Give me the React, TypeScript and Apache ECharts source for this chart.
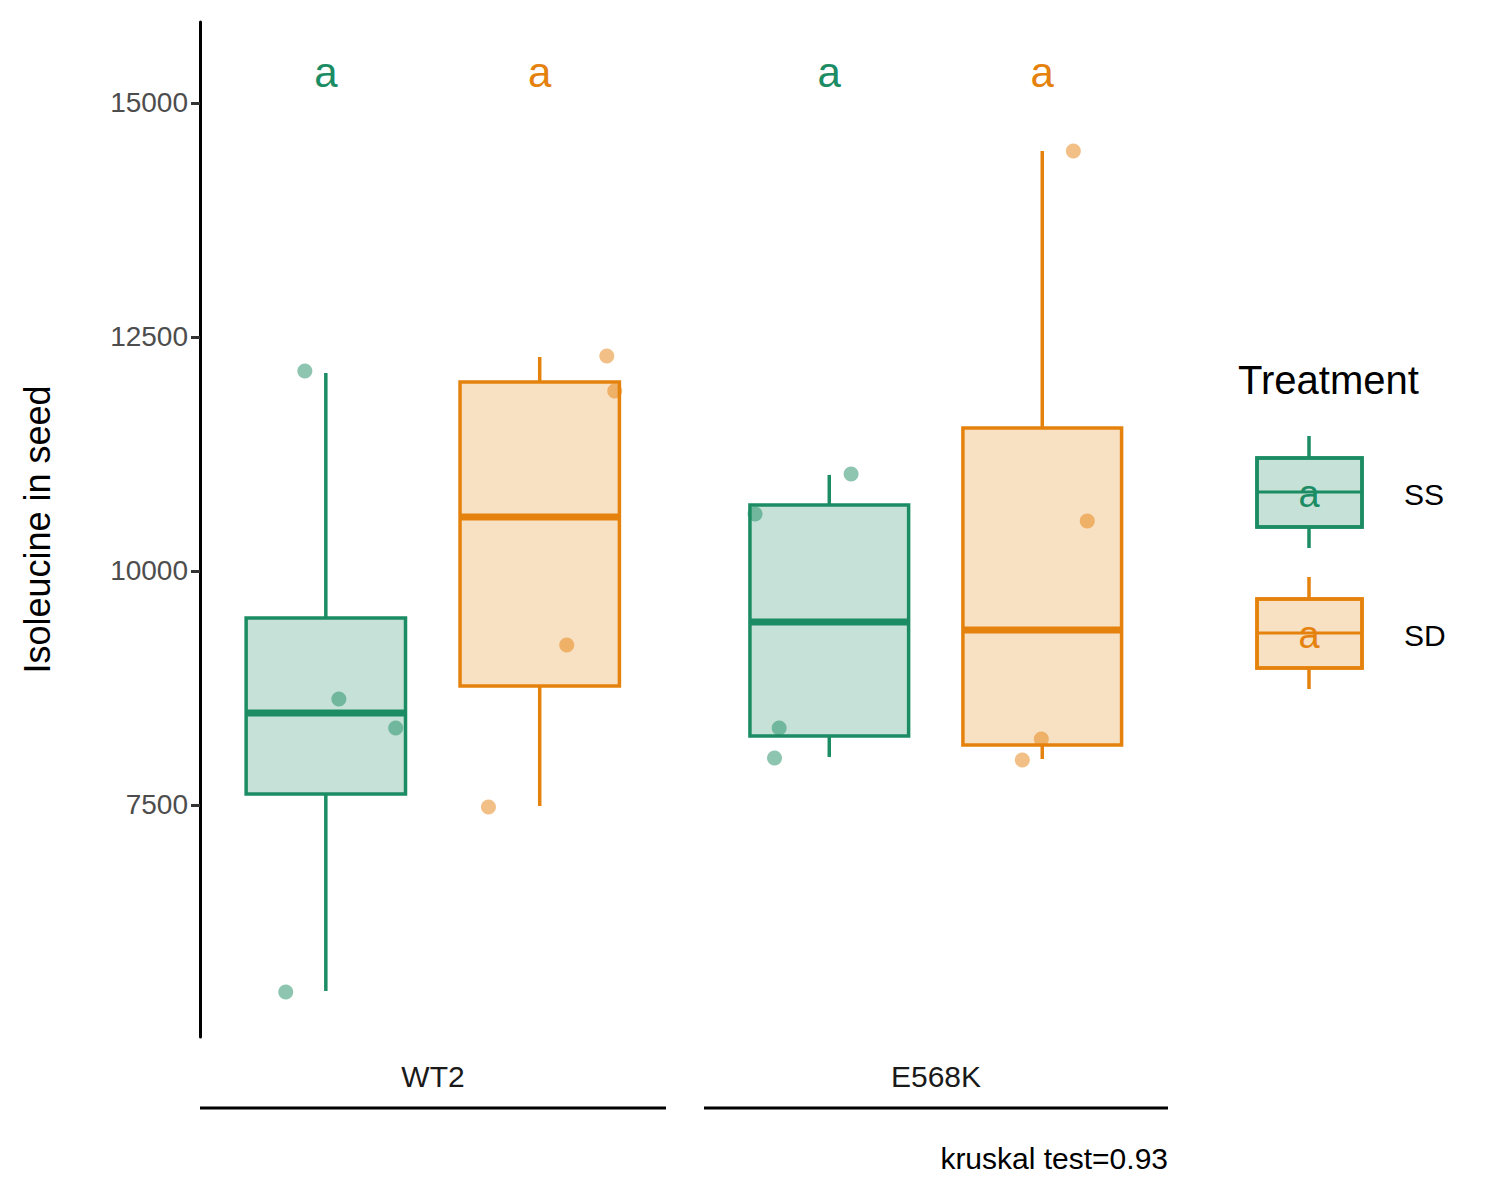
import React, { useEffect, useRef } from "react";
import * as echarts from "echarts";

const facets = ["WT2", "E568K"];
const treatments = ["SS", "SD"];
const colors = ["#1b8c64", "#e5820d"];
const fills = ["rgba(27,140,100,0.25)", "rgba(229,130,13,0.25)"];
const dodge = [0.27, 0.729];
const boxHalf = 0.171;
// [low, q1, median, q3, high] per facet per treatment
const boxStats = [
  [[5513, 7618, 8483, 9498, 12115], [7489, 8771, 10577, 12019, 12286]],
  [[8013, 8237, 9455, 10705, 11026], [7991, 8141, 9370, 11528, 14487]],
];
const pointValues = [
  [[12137, 8632, 8323, 5502], [12297, 11923, 9209, 7479]],
  [[11036, 10609, 8323, 8002], [14487, 10534, 8205, 7981]],
];
const pointJitter = [
  [[-0.045, 0.028, 0.15, -0.086], [0.144, 0.161, 0.058, -0.11]],
  [[0.047, -0.16, -0.108, -0.118], [0.067, 0.097, -0.002, -0.043]],
];
const letters = [["a", "a"], ["a", "a"]];
const yTicks = [7500, 10000, 12500, 15000];

const grids = [
  { left: 200, width: 466 },
  { left: 704, width: 464 },
];

export default function App() {
  const ref = useRef<HTMLDivElement>(null);
  useEffect(() => {
    document.body.style.margin = "0";
    const chart = echarts.init(ref.current!, null, { renderer: "svg" });
    const font = "Liberation Sans, Arial";
    const series: any[] = [];
    facets.forEach((f, fi) => {
      treatments.forEach((t, ti) => {
        const s = boxStats[fi][ti];
        series.push({
          type: "custom",
          xAxisIndex: fi,
          yAxisIndex: fi,
          data: [[dodge[ti], ...s]],
          renderItem: (params: any, api: any) => {
            const x = api.value(0);
            const [lo, q1, md, q3, hi] = [1, 2, 3, 4, 5].map((i) => api.value(i));
            const c = (xx: number, yy: number) => api.coord([xx, yy]);
            const pLo = c(x, lo), pHi = c(x, hi), pQ1 = c(x, q1), pQ3 = c(x, q3);
            const l = c(x - boxHalf, md)[0], r = c(x + boxHalf, md)[0];
            const pm = c(x, md);
            const st = { stroke: colors[ti], lineWidth: 3.5 };
            return {
              type: "group",
              children: [
                { type: "line", shape: { x1: pHi[0], y1: pHi[1], x2: pQ3[0], y2: pQ3[1] }, style: st },
                { type: "line", shape: { x1: pLo[0], y1: pLo[1], x2: pQ1[0], y2: pQ1[1] }, style: st },
                { type: "rect", shape: { x: l, y: pQ3[1], width: r - l, height: pQ1[1] - pQ3[1] }, style: { ...st, fill: fills[ti] } },
                { type: "line", shape: { x1: l, y1: pm[1], x2: r, y2: pm[1] }, style: { stroke: colors[ti], lineWidth: 7 } },
              ],
            };
          },
          z: 2,
        });
        series.push({
          type: "scatter",
          xAxisIndex: fi,
          yAxisIndex: fi,
          symbolSize: 15,
          itemStyle: { color: colors[ti], opacity: 0.5 },
          data: pointValues[fi][ti].map((v, i) => [dodge[ti] + pointJitter[fi][ti][i], v]),
          z: 3,
        });
      });
    });

    const letterGraphics: any[] = [];
    const legendItems = treatments.map((t, ti) => {
      const top = 458 + ti * 141;
      const cx = 1309;
      const mid = top + 34;
      return {
        type: "group",
        children: [
          { type: "line", shape: { x1: cx, y1: top - 22, x2: cx, y2: top + 90 }, style: { stroke: colors[ti], lineWidth: 3.5 } },
          { type: "rect", shape: { x: 1257, y: top, width: 105, height: 69 }, style: { stroke: colors[ti], lineWidth: 3.5, fill: "#fff" } },
          { type: "rect", shape: { x: 1257, y: top, width: 105, height: 69 }, style: { stroke: colors[ti], lineWidth: 3.5, fill: fills[ti] } },
          { type: "line", shape: { x1: 1257, y1: mid, x2: 1362, y2: mid }, style: { stroke: colors[ti], lineWidth: 3 } },
          { type: "text", x: cx, y: mid + 2, style: { text: "a", fill: colors[ti], font: `38px ${font}`, textAlign: "center", textVerticalAlign: "middle" } },
          { type: "text", x: 1404, y: mid + 2, style: { text: t, fill: "#000", font: `30px ${font}`, textVerticalAlign: "middle" } },
        ],
      };
    });

    chart.setOption({
      animation: false,
      grid: grids.map((g) => ({ left: g.left, width: g.width, top: 22, bottom: 163 })),
      xAxis: grids.map((g, i) => ({ type: "value", gridIndex: i, min: 0, max: 1, show: false })),
      yAxis: grids.map((g, i) => ({
        type: "value",
        gridIndex: i,
        min: 5021,
        max: 15865,
        show: i === 0,
        splitLine: { show: false },
        axisLine: { show: true, lineStyle: { color: "#000", width: 3 } },
        axisTick: { show: true, length: 9, customValues: yTicks, lineStyle: { color: "#333", width: 3 } },
        axisLabel: {
          fontSize: 28,
          color: "#4d4d4d",
          fontFamily: font,
          margin: 12,
          customValues: yTicks,
          formatter: (v: number) => String(v),
        },
        name: i === 0 ? "Isoleucine in seed" : "",
        nameLocation: "middle",
        nameGap: 145,
        nameTextStyle: { fontSize: 36, color: "#000", fontFamily: font },
      })),
      series,
      graphic: [
        ...grids.map((g, i) => ({
          type: "group",
          children: [
            { type: "line", shape: { x1: g.left, y1: 1108, x2: g.left + g.width, y2: 1108 }, style: { stroke: "#000", lineWidth: 3 } },
            { type: "text", x: g.left + g.width / 2, y: 1076, style: { text: facets[i], fill: "#1a1a1a", font: `30px ${font}`, textAlign: "center", textVerticalAlign: "middle" } },
            ...treatments.map((t, ti) => ({
              type: "text",
              x: g.left + dodge[ti] * g.width,
              y: 72,
              style: { text: letters[i][ti], fill: colors[ti], font: `42px ${font}`, textAlign: "center", textVerticalAlign: "middle" },
            })),
          ],
        })),
        { type: "text", x: 1168, y: 1158, style: { text: "kruskal test=0.93", fill: "#000", font: `30px ${font}`, textAlign: "right", textVerticalAlign: "middle" } },
        { type: "text", x: 1238, y: 380, style: { text: "Treatment", fill: "#000", font: `40px ${font}`, textVerticalAlign: "middle" } },
        ...legendItems,
        ...letterGraphics,
      ],
    });
    return () => chart.dispose();
  }, []);
  return <div ref={ref} style={{ width: 1500, height: 1200 }} />;
}
